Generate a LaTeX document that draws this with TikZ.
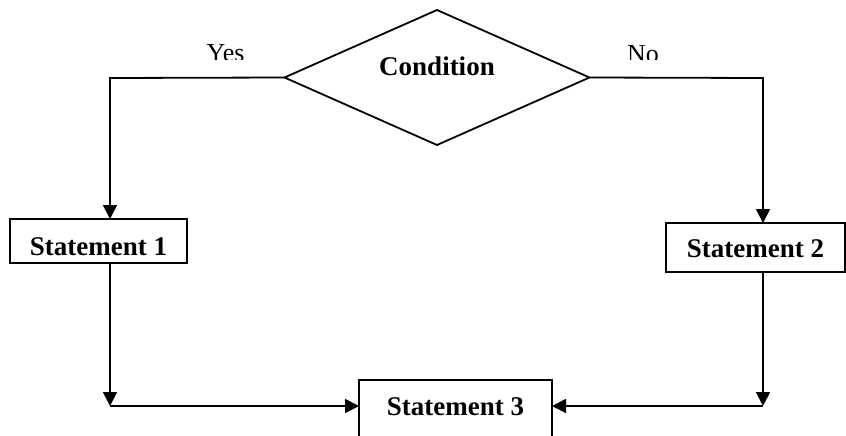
\documentclass[tikz,border=0pt]{standalone}
\usepackage{fontspec}
\setmainfont{Liberation Serif}
\usetikzlibrary{shapes.geometric,arrows.meta,calc}
\begin{document}
\begin{tikzpicture}[x=1pt,y=-1pt,
  line width=1.8pt,
  box/.style={draw, rectangle, inner xsep=0pt, inner ysep=0pt, outer sep=0pt, font=\fontsize{27}{30}\selectfont\bfseries},
  dia/.style={draw, diamond, minimum width=305pt, minimum height=135pt, inner sep=0pt, outer sep=0pt},
  lbl/.style={font=\fontsize{26}{30}\selectfont, anchor=base, inner sep=0pt},
  arr/.style={-{Triangle[length=14pt,width=14pt]}}]
\clip (0,0) rectangle (846,436);
\node[dia] (cond) at (437,77.5) {};
\node[font=\fontsize{27}{30}\selectfont\bfseries, anchor=base, inner sep=0pt] (condtxt) at (437,75) {Condition};
\node[box, minimum width=177pt, text height=36pt, text depth=8pt] (s1) at (98.5,241) {Statement 1};
\node[box, minimum width=179pt, text height=34pt, text depth=15pt] (s2) at (755.5,247.5) {Statement 2};
\node[box, minimum width=193pt, text height=35pt, text depth=35pt] (s3) at (455.5,415) {Statement 3};
\coordinate (yc) at (110,78);
\coordinate (nc) at (763,78);
\coordinate (bl) at (110,406);
\coordinate (br) at (763,406);
\draw[arr] (cond.west) -- (yc) -- (yc |- s1.north);
\draw[arr] (s1.south -| yc) -- (bl);
\draw[arr] (bl) -- (bl -| s3.west);
\draw[arr] (cond.east) -- (nc) -- (nc |- s2.north);
\draw[arr] (s2.south -| nc) -- (br);
\draw[arr] (br) -- (br -| s3.east);
\begin{scope}
\clip (0,0) rectangle (846,60);
\node[lbl] (yes) at (225.5,61.5) {Yes};
\node[lbl] (no) at (643,62.5) {No};
\end{scope}
\end{tikzpicture}
\end{document}
